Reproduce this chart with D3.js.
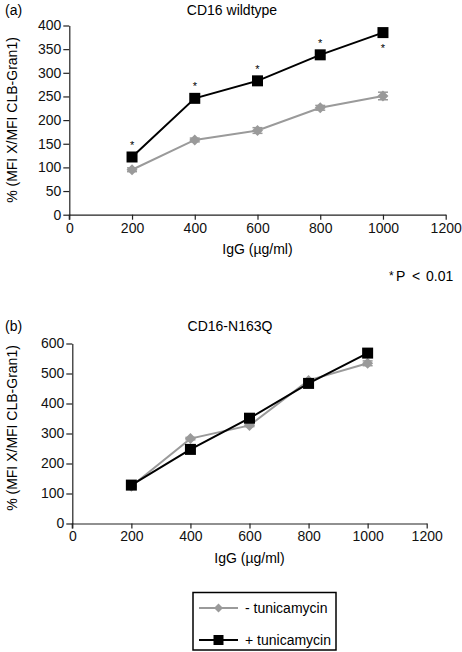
<!DOCTYPE html>
<html><head><meta charset="utf-8">
<script src="https://cdn.jsdelivr.net/npm/d3@7"></script>
<style>
html,body{margin:0;padding:0;background:#fff;}
svg{display:block;font-family:"Liberation Sans",Arial,Helvetica,sans-serif;}
</style></head>
<body>
<svg id="chart" width="462" height="652"></svg>
<script>
// ---- data ----
const doses = [200, 400, 600, 800, 1000];
const xTicks = [0, 200, 400, 600, 800, 1000, 1200];
const yTicksA = [0, 50, 100, 150, 200, 250, 300, 350, 400];
const yTicksB = [0, 100, 200, 300, 400, 500, 600];
// Panel (a) CD16 wildtype
const wtMinus = [95, 158, 178, 226, 251];
const wtMinusErr = [4, 4, 6, 5, 8];
const wtPlus = [122, 246, 283, 338, 385];
const wtSig = [true, true, true, true, true];
const wtSigBelow = [false, false, false, false, true];
// Panel (b) CD16-N163Q
const nqMinus = [124, 283, 327, 477, 534];
const nqMinusErr = [4, 4, 4, 4, 8];
const nqPlus = [128, 247, 351, 467, 568];
const seriesNames = ["- tunicamycin", "+ tunicamycin"];
const grey = "#9a9a9a";

const svg = d3.select("#chart");
const FS = 14;
const FF = "Liberation Sans, Arial, sans-serif";

function panel(opts) {
  const g = svg.append("g");
  const x = d3.scaleLinear().domain([0, 1200]).range(opts.xr);
  const y = d3.scaleLinear().domain([0, opts.ymax]).range(opts.yr);
  const ax = g.append("g").attr("transform", `translate(0,${opts.yr[0]})`)
    .call(d3.axisBottom(x).tickValues(xTicks).tickFormat(d3.format("d"))
      .tickSize(5).tickPadding(3).tickSizeOuter(0));
  const ay = g.append("g").attr("transform", `translate(${opts.xr[0]},0)`)
    .call(d3.axisLeft(y).tickValues(opts.yTicks).tickFormat(d3.format("d"))
      .tickSize(6).tickPadding(2).tickSizeOuter(0));
  [ax, ay].forEach(a => {
    a.attr("font-size", FS).attr("font-family", FF);
    a.select(".domain").attr("stroke", "#222").attr("stroke-width", 1.2);
    a.selectAll(".tick line").attr("stroke", "#222").attr("stroke-width", 1.2);
    a.selectAll("text").attr("fill", "#111");
  });
  g.append("line").attr("x1", opts.xr[0]).attr("x2", opts.xr[0])
    .attr("y1", opts.yr[0]).attr("y2", opts.yr[0] + 5).attr("stroke", "#222").attr("stroke-width", 1.2);

  g.append("text").attr("x", 5).attr("y", opts.titleY).attr("font-size", FS).text(opts.tag);
  g.append("text").attr("x", opts.titleX).attr("y", opts.titleY).attr("text-anchor", "middle")
    .attr("font-size", FS).text(opts.title);
  g.append("text").attr("x", (opts.xr[0] + opts.xr[1]) / 2).attr("y", opts.xLabY)
    .attr("text-anchor", "middle").attr("font-size", FS).text("IgG (µg/ml)");
  g.append("text").attr("transform", `translate(17,${opts.yLabC}) rotate(-90)`)
    .attr("text-anchor", "middle").attr("font-size", FS).text("% (MFI X/MFI CLB-Gran1)");

  const line = d3.line().x(d => x(d[0])).y(d => y(d[1]));
  const mData = doses.map((d, i) => [d, opts.minus[i], opts.minusErr[i]]);
  const pData = doses.map((d, i) => [d, opts.plus[i]]);

  g.append("path").datum(mData).attr("d", line).attr("fill", "none")
    .attr("stroke", grey).attr("stroke-width", 2);
  const eb = g.append("g").selectAll("g").data(mData).join("g");
  eb.append("line").attr("x1", d => x(d[0])).attr("x2", d => x(d[0]))
    .attr("y1", d => y(d[1] - d[2])).attr("y2", d => y(d[1] + d[2])).attr("stroke", grey).attr("stroke-width", 1.5);
  [1, -1].forEach(s => {
    eb.append("line").attr("x1", d => x(d[0]) - 5).attr("x2", d => x(d[0]) + 5)
      .attr("y1", d => y(d[1] + s * d[2])).attr("y2", d => y(d[1] + s * d[2]))
      .attr("stroke", grey).attr("stroke-width", 1.5);
  });
  g.append("g").selectAll("path").data(mData).join("path")
    .attr("transform", d => `translate(${x(d[0])},${y(d[1])})`)
    .attr("d", "M0,-5.5L5.5,0L0,5.5L-5.5,0Z").attr("fill", grey);

  g.append("path").datum(pData).attr("d", line).attr("fill", "none")
    .attr("stroke", "#000").attr("stroke-width", 2);
  g.append("g").selectAll("rect").data(pData).join("rect")
    .attr("x", d => x(d[0]) - 5.5).attr("y", d => y(d[1]) - 5.5)
    .attr("width", 11).attr("height", 11).attr("fill", "#000");

  if (opts.sig) {
    g.append("g").selectAll("text").data(pData.filter((d, i) => opts.sig[i]))
      .join("text")
      .attr("x", d => x(d[0]))
      .attr("y", d => {
        const i = doses.indexOf(d[0]);
        return opts.sigBelow[i] ? y(d[1]) + 19 : y(d[1]) - 8;
      })
      .attr("text-anchor", "middle").attr("font-size", 11).text("*");
  }
}

panel({
  xr: [69.3, 445.7], yr: [214.7, 25.5], ymax: 400, yTicks: yTicksA,
  tag: "(a)", title: "CD16 wildtype", titleX: 232, titleY: 15,
  xLabY: 254, yLabC: 120,
  minus: wtMinus, minusErr: wtMinusErr, plus: wtPlus, sig: wtSig, sigBelow: wtSigBelow
});

panel({
  xr: [72.3, 426.7], yr: [523.5, 343.5], ymax: 600, yTicks: yTicksB,
  tag: "(b)", title: "CD16-N163Q", titleX: 230, titleY: 331,
  xLabY: 563, yLabC: 428,
  minus: nqMinus, minusErr: nqMinusErr, plus: nqPlus
});

const note = svg.append("text").attr("y", 281).attr("font-size", FS);
note.append("tspan").attr("x", 389).attr("font-size", 12).attr("dy", -1).text("*");
note.append("tspan").attr("x", 396).attr("dy", 1).text("P");
note.append("tspan").attr("x", 412).text("<");
note.append("tspan").attr("x", 426).text("0.01");

const lg = svg.append("g");
lg.append("rect").attr("x", 193).attr("y", 592.5).attr("width", 143).attr("height", 57.5)
  .attr("fill", "#fff").attr("stroke", "#000").attr("stroke-width", 1.5);
const rows = [608, 640];
seriesNames.forEach((name, i) => {
  const c = i === 0 ? grey : "#000";
  lg.append("line").attr("x1", 199).attr("x2", 238).attr("y1", rows[i]).attr("y2", rows[i])
    .attr("stroke", c).attr("stroke-width", 2);
  if (i === 0) {
    lg.append("path").attr("transform", `translate(218.5,${rows[i]})`)
      .attr("d", "M0,-4.5L4.5,0L0,4.5L-4.5,0Z").attr("fill", grey);
  } else {
    lg.append("rect").attr("x", 213.5).attr("y", rows[i] - 5).attr("width", 10).attr("height", 10).attr("fill", "#000");
  }
  lg.append("text").attr("x", 245).attr("y", rows[i] + 5).attr("font-size", FS).text(name);
});
</script>
</body></html>
